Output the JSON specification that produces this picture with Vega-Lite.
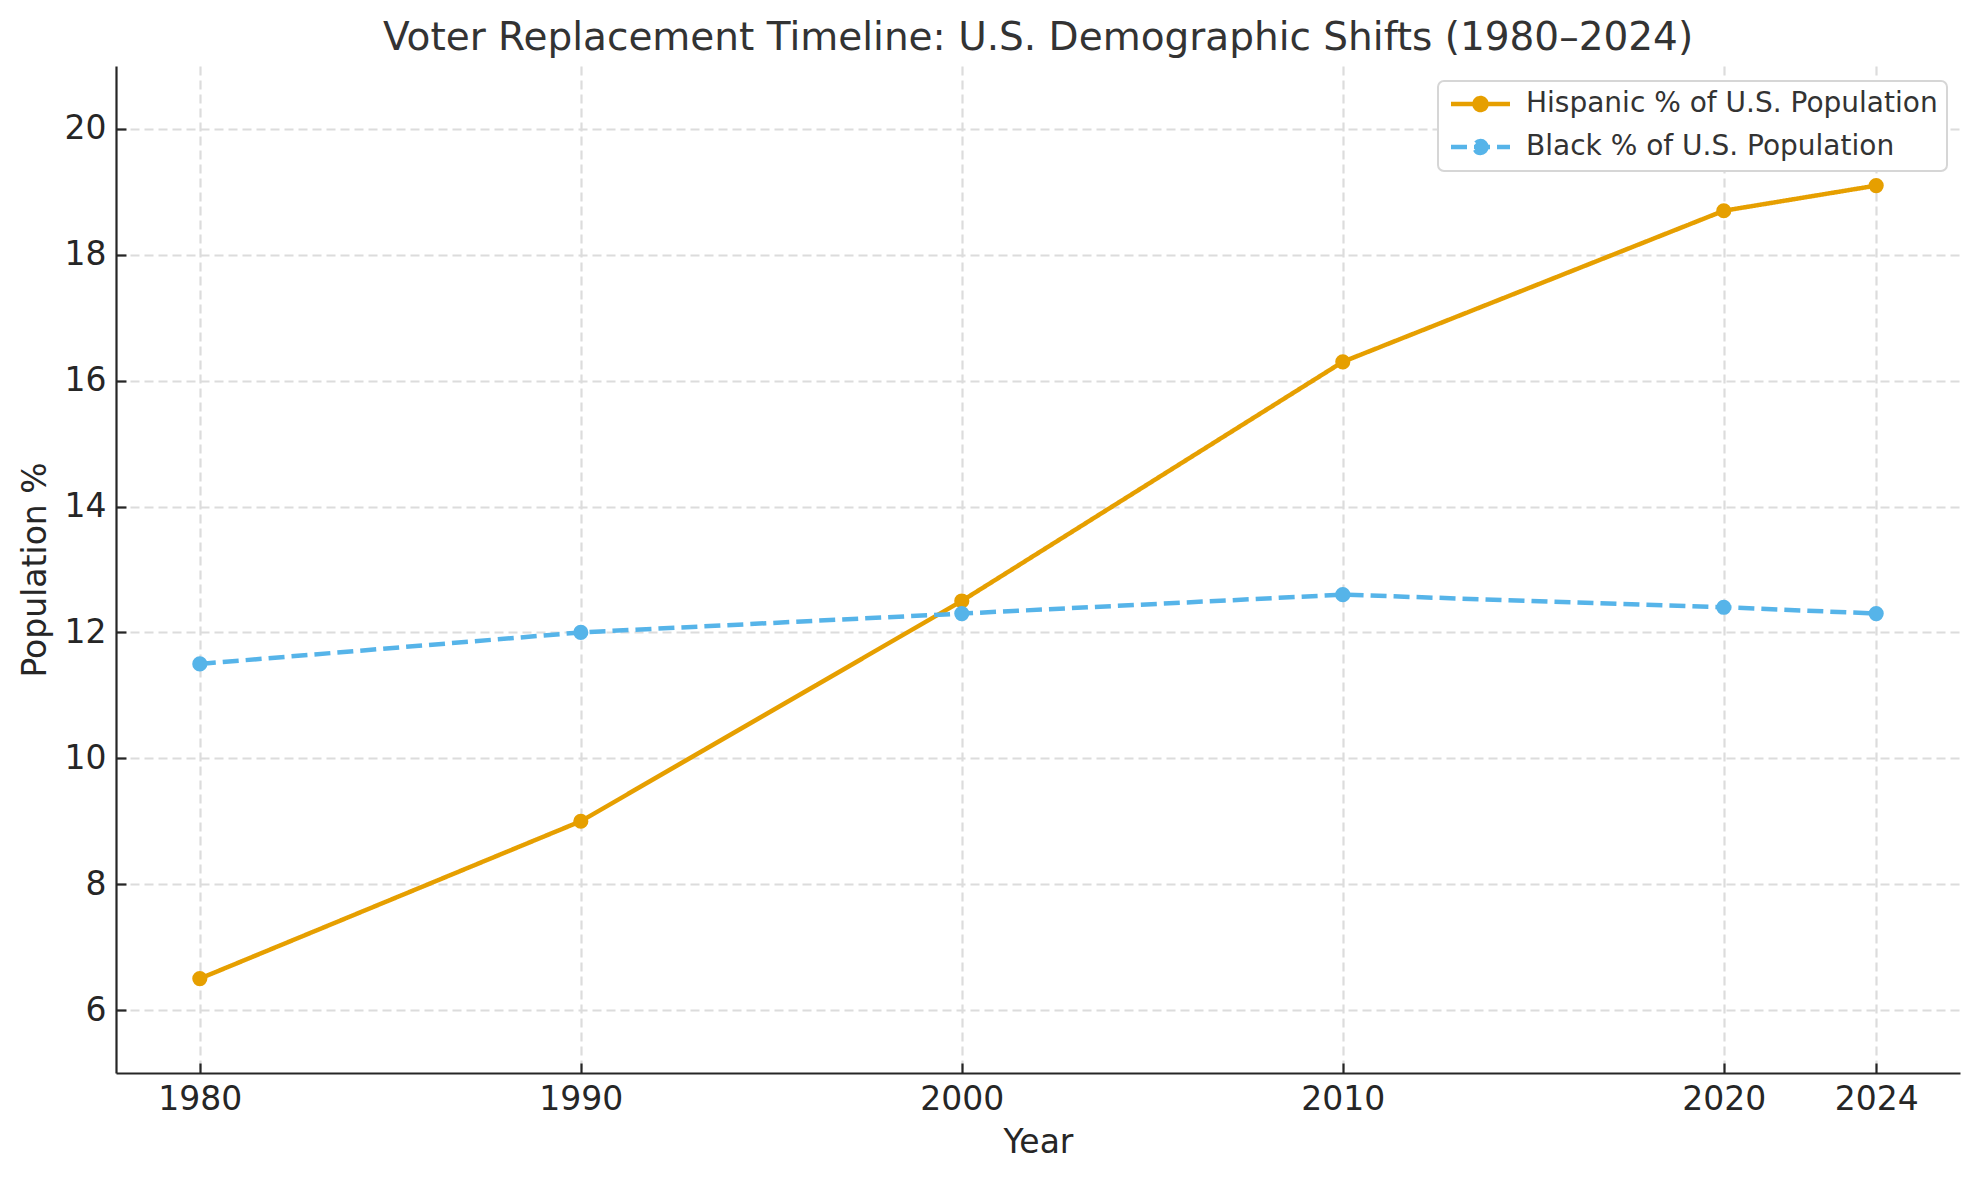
{
  "$schema": "https://vega.github.io/schema/vega-lite/v6.json",
  "width": 1844,
  "height": 1007,
  "autosize": {"type": "none"},
  "padding": {"left": 116, "top": 66, "right": 19, "bottom": 107},
  "background": "white",
  "title": {
    "text": "Voter Replacement Timeline: U.S. Demographic Shifts (1980–2024)",
    "fontSize": 39,
    "font": "DejaVu Sans",
    "fontWeight": "normal",
    "color": "#333333",
    "anchor": "middle",
    "offset": 8
  },
  "config": {"view": {"stroke": null}, "font": "DejaVu Sans"},
  "data": {
    "values": [
      {"year": 1980, "series": "Hispanic % of U.S. Population", "pct": 6.5},
      {"year": 1990, "series": "Hispanic % of U.S. Population", "pct": 9.0},
      {"year": 2000, "series": "Hispanic % of U.S. Population", "pct": 12.5},
      {"year": 2010, "series": "Hispanic % of U.S. Population", "pct": 16.3},
      {"year": 2020, "series": "Hispanic % of U.S. Population", "pct": 18.7},
      {"year": 2024, "series": "Hispanic % of U.S. Population", "pct": 19.1},
      {"year": 1980, "series": "Black % of U.S. Population", "pct": 11.5},
      {"year": 1990, "series": "Black % of U.S. Population", "pct": 12.0},
      {"year": 2000, "series": "Black % of U.S. Population", "pct": 12.3},
      {"year": 2010, "series": "Black % of U.S. Population", "pct": 12.6},
      {"year": 2020, "series": "Black % of U.S. Population", "pct": 12.4},
      {"year": 2024, "series": "Black % of U.S. Population", "pct": 12.3}
    ]
  },
  "encoding": {
    "x": {
      "field": "year",
      "type": "quantitative",
      "scale": {"domain": [1977.8, 2026.2], "nice": false, "zero": false},
      "axis": {
        "values": [1980, 1990, 2000, 2010, 2020, 2024],
        "format": "d",
        "labelFontSize": 33,
        "labelColor": "#262626",
        "labelFont": "DejaVu Sans",
        "domainColor": "#262626",
        "domainWidth": 2.2,
        "tickColor": "#262626",
        "tickWidth": 2.2,
        "tickSize": -10,
        "labelPadding": 20,
        "grid": true,
        "gridColor": "#dcdcdc",
        "gridDash": [9, 5],
        "gridWidth": 2.2,
        "title": "Year",
        "titleFontSize": 33,
        "titleFontWeight": "normal",
        "titleFont": "DejaVu Sans",
        "titleColor": "#262626",
        "titlePadding": 10
      }
    },
    "y": {
      "field": "pct",
      "type": "quantitative",
      "scale": {"domain": [5, 21], "nice": false, "zero": false},
      "axis": {
        "values": [6, 8, 10, 12, 14, 16, 18, 20],
        "labelFontSize": 33,
        "labelColor": "#262626",
        "labelFont": "DejaVu Sans",
        "domainColor": "#262626",
        "domainWidth": 2.2,
        "tickColor": "#262626",
        "tickWidth": 2.2,
        "tickSize": -10,
        "labelPadding": 20,
        "grid": true,
        "gridColor": "#dcdcdc",
        "gridDash": [9, 5],
        "gridWidth": 2.2,
        "title": "Population %",
        "titleFontSize": 33,
        "titleFontWeight": "normal",
        "titleFont": "DejaVu Sans",
        "titleColor": "#262626",
        "titlePadding": 12
      }
    },
    "color": {
      "field": "series",
      "type": "nominal",
      "scale": {
        "domain": ["Hispanic % of U.S. Population", "Black % of U.S. Population"],
        "range": ["#E69F00", "#56B4E9"]
      },
      "legend": {
        "title": null,
        "orient": "none",
        "legendX": 1322,
        "legendY": 15,
        "padding": 9,
        "fillColor": "white",
        "strokeColor": "#d6d6d6",
        "cornerRadius": 6,
        "labelFontSize": 28,
        "labelFont": "DejaVu Sans",
        "labelColor": "#333333",
        "labelOffset": 51,
        "labelLimit": 0,
        "rowPadding": 13,
        "symbolType": "M-1,0L4.9,0M2.55,0A0.6,0.6,0,1,1,1.35,0A0.6,0.6,0,1,1,2.55,0Z",
        "symbolSize": 400,
        "symbolStrokeWidth": 4.5,
        "encode": {
          "legend": {
            "update": {
              "strokeWidth": {"value": 2}
            }
          },
          "symbols": {
            "update": {
              "fill": {"signal": "scale('color', datum.value)"},
              "fillOpacity": {"value": 1}
            }
          }
        }
      }
    }
  },
  "layer": [
    {
      "mark": {"type": "line", "strokeWidth": 4.5},
      "encoding": {
        "strokeDash": {
          "field": "series",
          "type": "nominal",
          "scale": {
            "domain": ["Hispanic % of U.S. Population", "Black % of U.S. Population"],
            "range": [[1, 0], [16, 7]]
          },
          "legend": {"title": null}
        }
      }
    },
    {
      "mark": {"type": "point", "filled": true, "size": 230, "opacity": 1},
      "encoding": {}
    }
  ]
}
